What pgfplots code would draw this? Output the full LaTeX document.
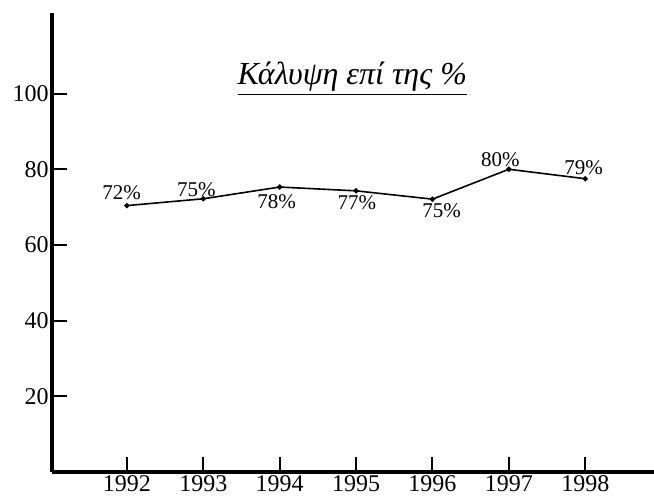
\documentclass[border=0pt]{standalone}
\usepackage{pgfplots}
\pgfplotsset{compat=1.18}
\usepackage{fontspec}
\setmainfont{Liberation Serif}
\begin{document}
\begin{tikzpicture}
\begin{axis}[
  scale only axis, width=301pt, height=229.5pt,
  xmin=1991.02, xmax=1998.9, ymin=0, ymax=121.3,
  axis lines=left,
  x axis line style={-, line width=1.6pt},
  y axis line style={-, line width=1.6pt},
  xtick={1992,1993,1994,1995,1996,1997,1998},
  ytick={20,40,60,80,100},
  tick align=inside, major tick length=7.5pt,
  tick style={line width=1pt, black},
  /pgf/number format/1000 sep={},
  /pgf/number format/assume math mode=true,
  tick label style={font=\fontsize{12}{13}\selectfont, inner sep=1.5pt},
  clip=false,
]
\addplot[black, line width=0.8pt, mark=*, mark size=0.9pt] coordinates {
  (1992,70.4) (1993,72.2) (1994,75.3) (1995,74.3) (1996,72.1) (1997,80.0) (1998,77.5)
};
\node[font=\fontsize{10.5}{11}\selectfont] at (axis cs:1991.93,73.9) {72\%};
\node[font=\fontsize{10.5}{11}\selectfont] at (axis cs:1992.91,74.6) {75\%};
\node[font=\fontsize{10.5}{11}\selectfont] at (axis cs:1993.96,71.5) {78\%};
\node[font=\fontsize{10.5}{11}\selectfont] at (axis cs:1995.01,71.2) {77\%};
\node[font=\fontsize{10.5}{11}\selectfont] at (axis cs:1996.12,69.1) {75\%};
\node[font=\fontsize{10.5}{11}\selectfont] at (axis cs:1996.89,82.6) {80\%};
\node[font=\fontsize{10.5}{11}\selectfont] at (axis cs:1997.98,80.4) {79\%};
\node[font=\fontsize{16}{18}\selectfont\itshape] at (axis cs:1994.95,104) {\underline{Κάλυψη επί της \%}};
\end{axis}
\pgfresetboundingbox
\path (current axis.south west) ++(-26pt,-12pt) rectangle ++(327pt,248pt);
\end{tikzpicture}
\end{document}
